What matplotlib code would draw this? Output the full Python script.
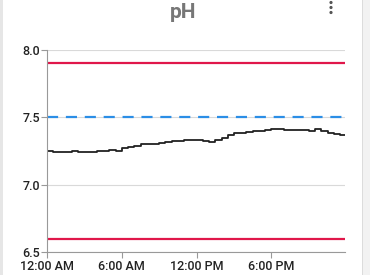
import matplotlib
matplotlib.use('Agg')
import matplotlib.pyplot as plt
from matplotlib.patches import Rectangle, Ellipse

# hours since midnight and pH reading
hours = [0, 0.5, 1, 1.5, 2, 2.5, 3, 3.5, 4, 4.5, 5, 5.5, 6, 6.5, 7, 7.5, 8, 8.5,
         9, 9.5, 10, 10.5, 11, 11.5, 12, 12.5, 13, 13.5, 14, 14.5, 15, 15.5, 16,
         16.5, 17, 17.5, 18, 18.5, 19, 19.5, 20, 20.5, 21, 21.5, 22, 22.5, 23,
         23.5, 23.9]
ph = [7.25, 7.245, 7.24, 7.245, 7.25, 7.24, 7.24, 7.245, 7.25, 7.25, 7.255,
      7.25, 7.275, 7.28, 7.29, 7.30, 7.30, 7.305, 7.31, 7.32, 7.325, 7.325,
      7.33, 7.33, 7.33, 7.325, 7.32, 7.33, 7.35, 7.37, 7.38, 7.385, 7.39,
      7.395, 7.40, 7.405, 7.41, 7.41, 7.405, 7.405, 7.405, 7.405, 7.40, 7.41,
      7.395, 7.385, 7.375, 7.37, 7.37]

upper_limit = 7.9
lower_limit = 6.6
target = 7.5

yticks = [6.5, 7.0, 7.5, 8.0]
xticks = [0, 6, 12, 18]
xtick_labels = ['12:00 AM', '6:00 AM', '12:00 PM', '6:00 PM']

plt.rcParams['font.family'] = ['Roboto', 'DejaVu Sans']

W, H = 370, 275
fig = plt.figure(figsize=(W / 100, H / 100), dpi=100)
fig.patch.set_facecolor('white')

# card edges
fig.patches.append(Rectangle((0, 0), 3 / W, 1, transform=fig.transFigure,
                             facecolor='#e6e6e6', edgecolor='none'))
fig.patches.append(Rectangle((362 / W, 0), 8 / W, 1, transform=fig.transFigure,
                             facecolor='#f2f2f2', edgecolor='none'))
fig.patches.append(Rectangle((362 / W, 0), 1.2 / W, 1, transform=fig.transFigure,
                             facecolor='#dcdcdc', edgecolor='none'))

fig.text(183 / W, 1 - 12 / H, 'pH', ha='center', va='center', fontsize=15,
         fontweight='bold', color='#777777')
# overflow menu dots
for dy in [2.5, 7.5, 12.5]:
    fig.patches.append(Ellipse((331 / W, 1 - dy / H), 3.2 / W, 3.2 / H,
                               transform=fig.transFigure,
                               facecolor='#555555', edgecolor='none'))

ax = fig.add_axes([47 / W, 23 / H, 298 / W, 202 / H])
ax.plot(hours, ph, color='#222222', linewidth=1.3, drawstyle='steps-post')
ax.axhline(upper_limit, color='#e0174a', linewidth=1.6)
ax.axhline(lower_limit, color='#e0174a', linewidth=1.6)
ax.axhline(target, color='#2b8ee6', linewidth=1.6, dashes=(5, 3.5))

ax.set_xlim(0, 23.9)
ax.set_ylim(6.5, 8.0)
ax.set_yticks(yticks)
ax.set_yticklabels([f'{v:.1f}' for v in yticks], fontweight='medium')
ax.set_xticks(xticks)
ax.set_xticklabels(xtick_labels, fontweight='medium')
ax.grid(axis='y', color='#d9d9d9', linewidth=0.8)
ax.set_axisbelow(True)
for side in ['top', 'right']:
    ax.spines[side].set_visible(False)
for side in ['left', 'bottom']:
    ax.spines[side].set_color('#999999')
    ax.spines[side].set_linewidth(0.8)
ax.tick_params(axis='both', colors='#999999', labelcolor='#222222',
               labelsize=9, length=4, width=0.8)
ax.tick_params(axis='x', pad=2)
ax.tick_params(axis='y', pad=1)

fig.savefig('out.png', dpi=100)
